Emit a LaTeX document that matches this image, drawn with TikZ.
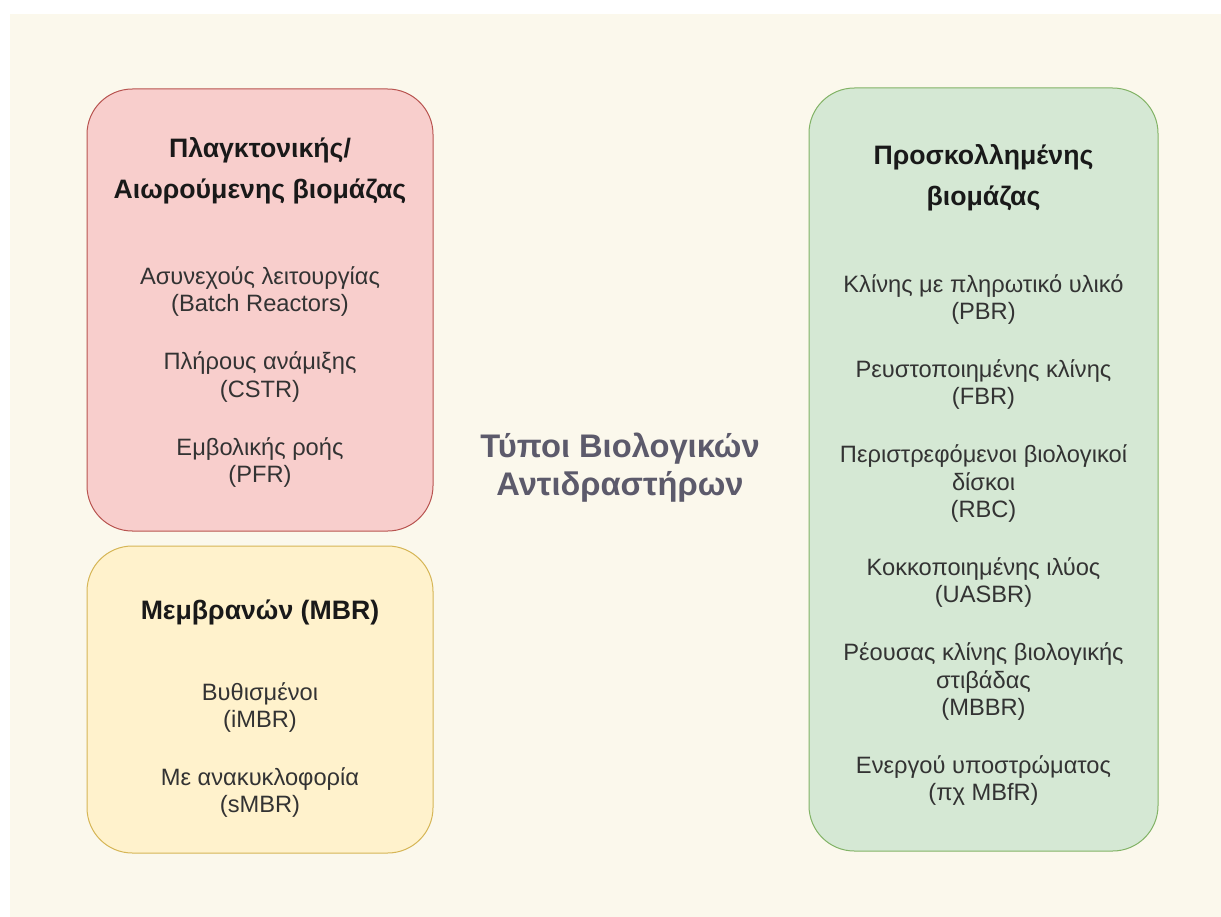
\documentclass[tikz,border=0pt]{standalone}
\usepackage{fontspec}
\setmainfont{Liberation Sans}
\usepackage{tikz}
\usetikzlibrary{positioning}
\definecolor{paper}{HTML}{FBF8EC}
\definecolor{redfill}{HTML}{F8CECC}
\definecolor{redline}{HTML}{B85450}
\definecolor{yelfill}{HTML}{FFF2CC}
\definecolor{yelline}{HTML}{D6B656}
\definecolor{grnfill}{HTML}{D5E8D4}
\definecolor{grnline}{HTML}{82B366}
\definecolor{titlegrey}{HTML}{5C5A6B}
\tikzset{
  box/.style={draw, rounded corners=34pt, line width=0.75pt, inner sep=0pt},
  head/.style={align=center, text=black!90, font=\bfseries\fontsize{20}{31}\selectfont},
  items/.style={align=center, text=black!80, font=\fontsize{17.75}{20.5}\selectfont},
}

\begin{document}
\begin{tikzpicture}[x=0.75pt, y=-0.75pt, node distance=10.5pt]
		% page
		\fill[white] (0,0) rectangle (1221,917);
		\fill[paper] (10,14) rectangle (1221,917);
		\node[box, fill=redfill, draw=redline, minimum width=259.5pt, minimum height=331.5pt](plank) at (260,310){};
		\node[box, fill=yelfill, draw=yelline, minimum width=259.5pt, minimum height=230.25pt](memb)[below=of plank]{};
		\node[box, fill=grnfill, draw=grnline, minimum width=261.75pt, minimum height=572.25pt](prosk) at (983.5,469.5){};
		% headings
		\node[head](plankhead) at (260,171){Πλαγκτονικής/\\Αιωρούμενης βιομάζας};
		\node[head](membhead) at (260,612){Μεμβρανών (MBR)};
		\node[head](proskhead) at (983.5,178){Προσκολλημένης\\βιομάζας};
		% reactor types
		\node[items](plankitems) at (260,377){Ασυνεχούς λειτουργίας\\(Batch Reactors)\\[23pt]
			Πλήρους ανάμιξης\\(CSTR)\\[23pt]Εμβολικής ροής\\(PFR)};
		\node[items](membitems) at (260,750){Βυθισμένοι\\(iMBR)\\[23pt]Με ανακυκλοφορία\\(sMBR)};
		\node[items](proskitems) at (983.5,540){Κλίνης με πληρωτικό υλικό\\(PBR)\\[23pt]
			Ρευστοποιημένης κλίνης\\(FBR)\\[23pt]
			Περιστρεφόμενοι βιολογικοί\\δίσκοι\\(RBC)\\[23pt]
			Κοκκοποιημένης ιλύος\\(UASBR)\\[23pt]
			Ρέουσας κλίνης βιολογικής\\στιβάδας\\(MBBR)\\[23pt]
			Ενεργού υποστρώματος\\(πχ MBfR)};
		% title
		\node[align=center, text=titlegrey, font=\bfseries\fontsize{24.5}{28.5}\selectfont](title) at (620,468){Τύποι Βιολογικών\\Αντιδραστήρων};
	\end{tikzpicture}
\end{document}
